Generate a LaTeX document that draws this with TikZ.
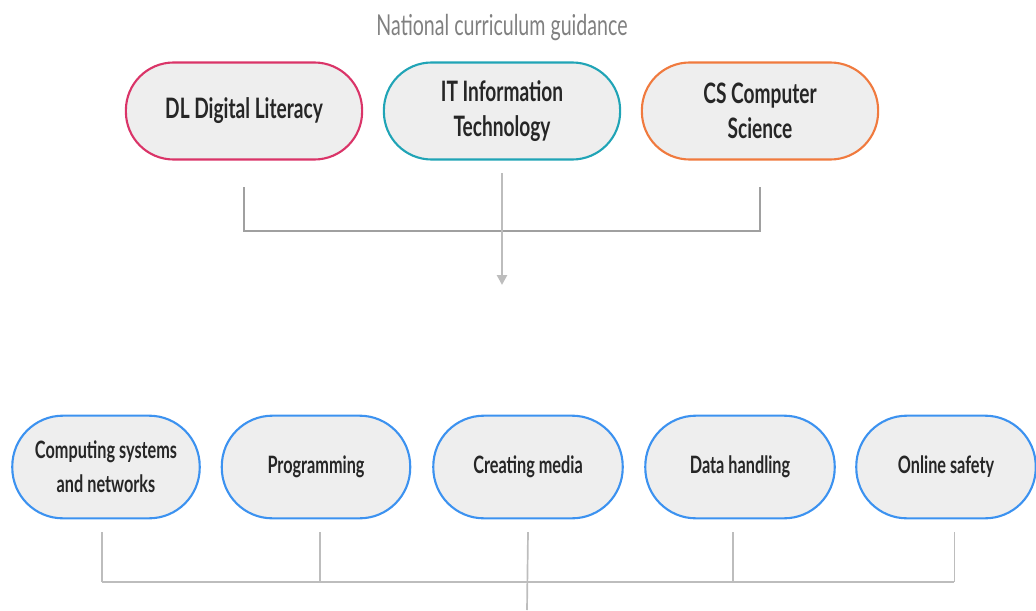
\documentclass[tikz,border=0pt]{standalone}
\usepackage{fontspec}
\setmainfont{Lato}[FakeStretch=0.68]
\usetikzlibrary{positioning,calc,arrows.meta}
\definecolor{mypink}{RGB}{218,52,104}
\definecolor{myteal}{RGB}{32,164,182}
\definecolor{myorange}{RGB}{240,122,62}
\definecolor{myblue}{RGB}{60,146,240}
\definecolor{myfill}{RGB}{238,238,238}
\definecolor{mygrey}{RGB}{160,160,160}

\begin{document}
\begin{tikzpicture}[x=0.025cm,y=-0.025cm,
  pill/.style={draw,fill=myfill,line width=1.5pt,rounded corners=34pt,
    minimum height=69pt,align=center,font=\fontsize{20}{25}\selectfont\bfseries,
    text=black!85},
  topic/.style={pill,draw=myblue,rounded corners=36pt,minimum height=73pt,
    font=\fontsize{17}{24}\selectfont\bfseries},
  conn/.style={draw=mygrey,line width=1.8pt},
  thin conn/.style={draw=mygrey!70,line width=1.2pt}
]
\useasboundingbox (0,0) rectangle (1036,610);

% the guidance
\node[text=gray,font=\fontsize{20.5}{24}\selectfont] (title) at (502,28) {National curriculum guidance};
\node[pill,draw=mypink,minimum width=168pt] (dl) at (244,111) {DL Digital Literacy};
\node[pill,draw=myteal,minimum width=168pt] (it) at (502,111) {IT Information\\Technology};
\node[pill,draw=myorange,minimum width=168pt] (cs) at (760,111) {CS Computer\\Science};

% the strands
\foreach \x/\w/\t [count=\i] in {106/188/{Computing systems\\and networks},
    316/189/Programming,528/190/Creating media,740/190/Data handling,946/180/Online safety}
  \node[topic,minimum width=\w*0.709pt] (s\i) at (\x,467) {\t};

% the edges
\coordinate (join) at (502,231);
\coordinate (arr) at (502,285);
\draw[conn] ([yshift=-19pt]dl.south) -- (dl.south |- join) -- (cs.south |- join)
  -- ([yshift=-19pt]cs.south);
\draw[conn,draw=mygrey!70,-{Triangle[width=7pt,length=7pt]}] ([yshift=-9pt]it.south) -- (arr);

\coordinate (base) at (527,582);
\coordinate (foot) at (527,610);
\draw[thin conn] ([xshift=-3pt]s1.south |- base) -- ([xshift=6pt]s5.south |- base);
\foreach \i/\d in {1/-3,2/3,4/-5,5/6}
  \draw[thin conn] ([xshift=\d pt,yshift=-9pt]s\i.south) -- ([xshift=\d pt]s\i.south |- base);
\draw[thin conn] ([yshift=-9pt]s3.south) -- (foot);
\end{tikzpicture}
\end{document}
